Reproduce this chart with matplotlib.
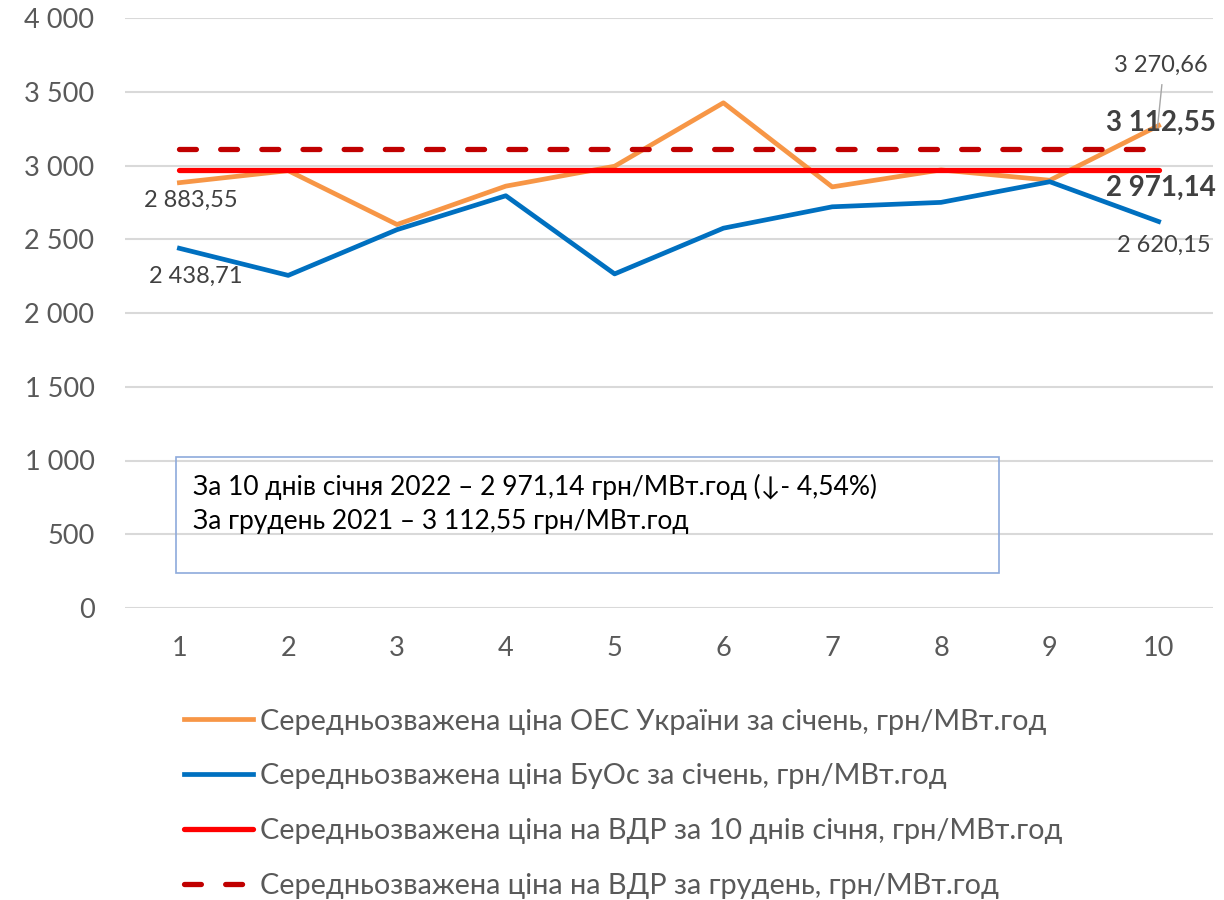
import numpy as np
import matplotlib
matplotlib.use("Agg")
import matplotlib.pyplot as plt
from matplotlib.ticker import FuncFormatter, MultipleLocator
from matplotlib.patches import Rectangle

# --- Dados ---
days = [1, 2, 3, 4, 5, 6, 7, 8, 9, 10]
oes_price = [2883.55, 2965, 2600, 2860, 2995, 3425, 2855, 2970, 2900, 3270.66]
buos_price = [2438.71, 2255, 2565, 2795, 2265, 2575, 2720, 2750, 2890, 2620.15]
vdr_jan = 2971.14
vdr_dec = 3112.55

labels = [
    "Середньозважена ціна ОЕС України за січень, грн/МВт.год",
    "Середньозважена ціна БуОс за січень, грн/МВт.год",
    "Середньозважена ціна на ВДР за 10 днів січня, грн/МВт.год",
    "Середньозважена ціна на ВДР за грудень, грн/МВт.год",
]
box_lines = [
    "За 10 днів січня 2022 – 2 971,14 грн/МВт.год (↓- 4,54%)",
    "За грудень 2021 – 3 112,55 грн/МВт.год",
]

plt.rcParams['font.family'] = ['Lato', 'DejaVu Sans']

GREY = '#595959'
DARK = '#404040'


def fmt(v, dec=2):
    s = f"{v:,.{dec}f}"
    return s.replace(',', ' ').replace('.', ',')


fig = plt.figure(figsize=(12.24, 9), dpi=100)
ax = fig.add_axes([125 / 1224, 1 - 608 / 900, 1088 / 1224, 590 / 900])

ax.plot(days, oes_price, color='#F79646', lw=3.4, label=labels[0])
ax.plot(days, buos_price, color='#0070C0', lw=3.4, label=labels[1])
ax.plot(days, [vdr_jan] * len(days), color='#FF0000', lw=3.8, solid_capstyle='round', label=labels[2])
ax.plot(days, [vdr_dec] * len(days), color='#C00000', lw=3.8, linestyle=(0, (3.2, 4.6)),
        dash_capstyle='round', label=labels[3])

ax.set_xlim(0.5, 10.5)
ax.set_ylim(0, 4000)
ax.yaxis.set_major_locator(MultipleLocator(500))
ax.yaxis.set_major_formatter(FuncFormatter(lambda v, p: fmt(v, 0)))
ax.set_xticks(days)
ax.grid(axis='y', color='#D9D9D9', lw=1.5)
ax.set_axisbelow(True)
for s in ax.spines.values():
    s.set_visible(False)
ax.tick_params(axis='both', length=0, labelsize=19.5, labelcolor=GREY)
ax.tick_params(axis='y', pad=22)
ax.tick_params(axis='x', pad=20)

# --- Rótulos de dados ---
ax.text(1.107, 2766, fmt(oes_price[0]), fontsize=17, color=DARK, ha='center', va='center')
ax.text(1.153, 2251, fmt(buos_price[0]), fontsize=17, color=DARK, ha='center', va='center')
ax.text(10.02, 3681, fmt(oes_price[-1]), fontsize=17, color=DARK, ha='center', va='center')
ax.plot([10.03, 9.99], [3547, 3260], color='#A6A6A6', lw=1)
ax.text(10.02, 3288, fmt(vdr_dec), fontsize=20, fontweight='bold', color=DARK, ha='center', va='center')
ax.text(10.02, 2847, fmt(vdr_jan), fontsize=20, fontweight='bold', color=DARK, ha='center', va='center')
ax.text(10.05, 2461, fmt(buos_price[-1]), fontsize=17, color=DARK, ha='center', va='center')

# --- Caixa de texto ---
fig.patches.append(Rectangle((176 / 1224, 1 - 573 / 900), 823 / 1224, 116 / 900,
                             transform=fig.transFigure, fill=False, ec='#8EAADB', lw=1.2))
fig.text(193 / 1224, 1 - 487 / 900, box_lines[0], fontsize=19, color='black', va='center')
fig.text(193 / 1224, 1 - 522 / 900, box_lines[1], fontsize=19, color='black', va='center')

# --- Legenda ---
fig.legend(loc='upper left', bbox_to_anchor=(172 / 1224, 1 - 697 / 900), frameon=False,
           fontsize=20.8, labelcolor=GREY, handlelength=2.4, handletextpad=0.25,
           labelspacing=1.0, borderaxespad=0)

fig.savefig('out.png', dpi=100)
